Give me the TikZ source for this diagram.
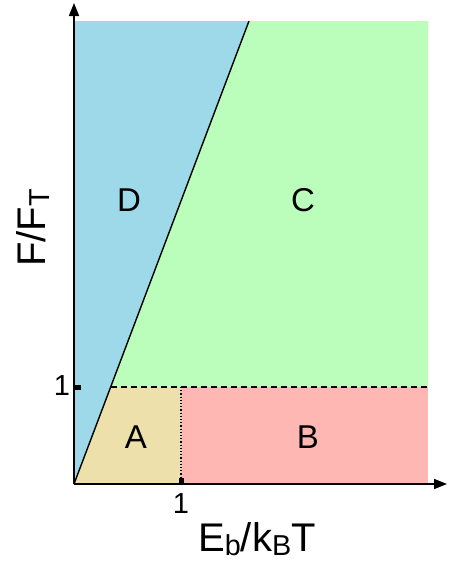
\documentclass[tikz,border=0pt]{standalone}
\usepackage{fontspec}
\setmainfont{Liberation Sans}
\usetikzlibrary{arrows.meta}
\definecolor{regD}{HTML}{9DD9E9}
\definecolor{regC}{HTML}{BBFEBB}
\definecolor{regA}{HTML}{EEE0AB}
\definecolor{regB}{HTML}{FFB7B3}
\newcommand\lowsub[1]{\raisebox{-0.1em}{\fontsize{0.72em}{1em}\selectfont #1}}
\tikzset{
  region/.style={font=\fontsize{33}{36}\selectfont},
  ticklabel/.style={font=\fontsize{29}{32}\selectfont},
  axlabel/.style={font=\fontsize{40}{44}\selectfont},
  axis/.style={line width=1.6pt,-{Triangle[length=13pt,width=10pt]}}
}
\begin{document}
\begin{tikzpicture}[x=1pt,y=-1pt]
\useasboundingbox (0,0) rectangle (453,562);
% key coordinates
\coordinate (O) at (74,484);
\coordinate (T) at (249,21);
\coordinate (P) at (110.7,387);
\coordinate (Q) at (181,387);
\coordinate (Q0) at (181,484);
\coordinate (R) at (428,387);
% fills
\fill[regD] (O) -- (74,21) -- (T) -- cycle;
\fill[regC] (P) -- (T) -- (428,21) -- (R) -- cycle;
\fill[regA] (O) -- (P) -- (Q) -- (Q0) -- cycle;
\fill[regB] (Q0) -- (Q) -- (R) -- (428,484) -- cycle;
% boundaries
\draw[line width=1.4pt] (O) -- (T);
\draw[line width=1.4pt, dash pattern=on 6pt off 4pt] (P) -- (R);
\draw[line width=1.2pt, dotted] (Q) -- (Q0);
% axes
\coordinate (Xend) at (447,484);
\coordinate (Yend) at (74,3);
\draw[axis] (O) -- (Xend);
\draw[axis] (O) -- (Yend);
% ticks
\fill (74,384.5) rectangle (81,389.5);
\fill (178.5,478) rectangle (183.5,484);
% labels
\node[region] (D) at (129,200) {D};
\node[region] (C) at (303,200) {C};
\node[region] (A) at (136,437) {A};
\node[region] (B) at (308,437) {B};
\node[ticklabel] (one y) at (62,386) {1};
\node[ticklabel] (one x) at (181,504) {1};
\node[axlabel] (xl) at (257,539) {E\lowsub{b}/k\lowsub{B}T};
\node[axlabel, rotate=90] (yl) at (33,228) {F/F\lowsub{T}};
\end{tikzpicture}
\end{document}
